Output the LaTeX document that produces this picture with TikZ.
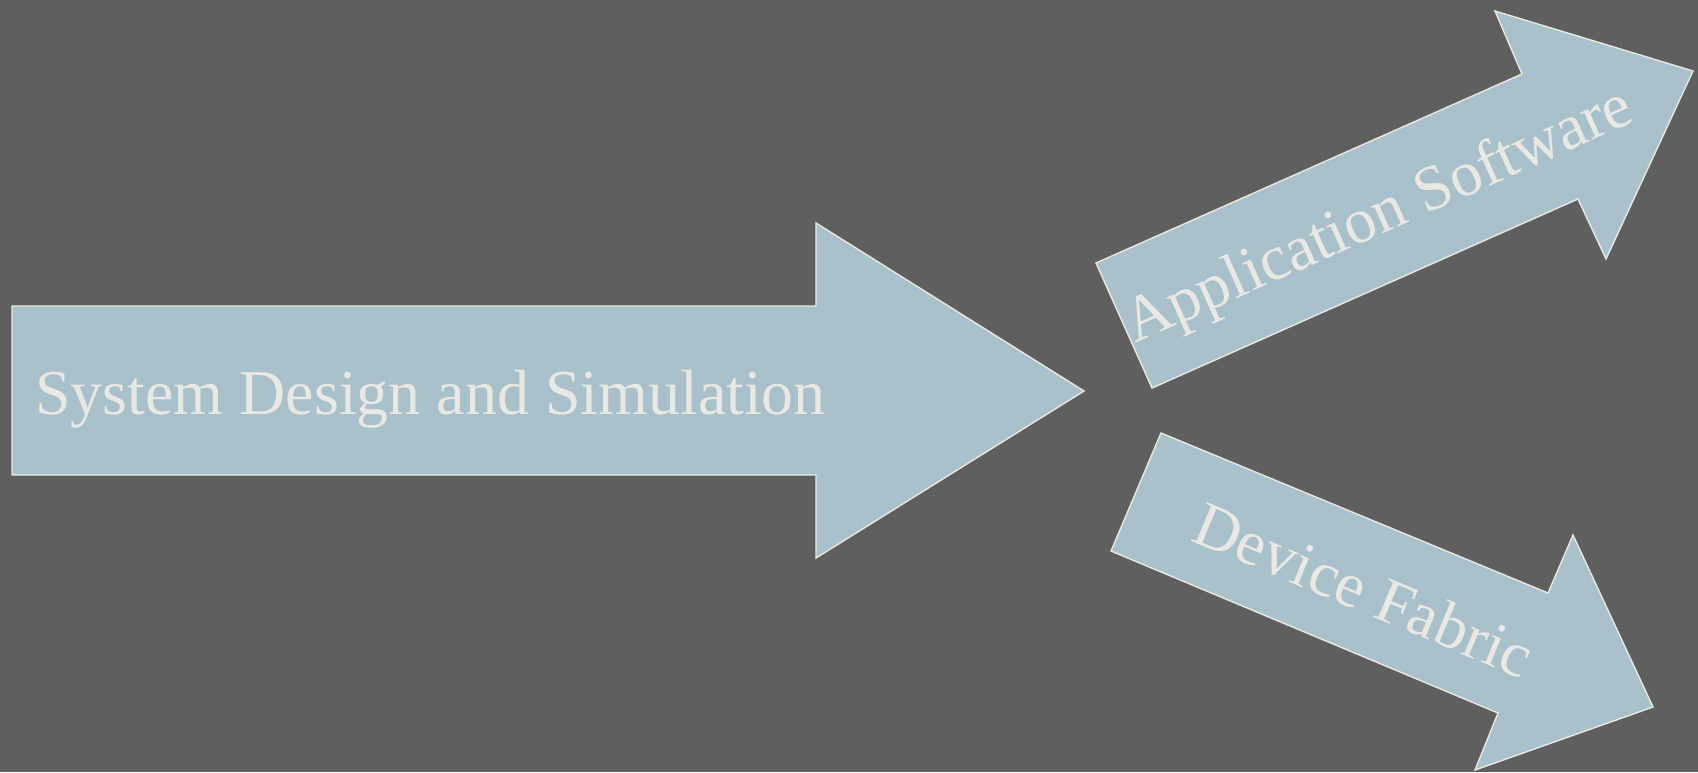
\documentclass[tikz,border=0pt]{standalone}
\usepackage{fontspec}
\setmainfont{Liberation Serif}
\definecolor{slategrey}{HTML}{5F5F5F}
\definecolor{arrowblue}{HTML}{A8C1CA}
\definecolor{chalk}{HTML}{EAE8E3}
\begin{document}
\begin{tikzpicture}[x=0.02cm, y=-0.02cm,
  blockarrow/.style={fill=arrowblue, draw=chalk, line width=0.8pt, line join=miter},
  arrowtext/.style={text=chalk, inner sep=0pt, anchor=base west, font=\fontsize{36.4}{40}\selectfont}]
\fill[slategrey] (0,0) rectangle (1698,772);
\useasboundingbox (0,0) rectangle (1698,772);

% main arrow
\draw[blockarrow] (12,306) -- (816,306) -- (816,223) -- (1084,391) -- (816,558) -- (816,475) -- (12,475) -- cycle;
\node[arrowtext] (design) at (35,414) {System Design and Simulation};

% upper arrow
\draw[blockarrow] (1096,263) -- (1522,74) -- (1495,11) -- (1693,71) -- (1606,259) -- (1578,199) -- (1152,388) -- cycle;
\node[arrowtext, rotate=24] (software) at (1135,344) {Application Software};

% lower arrow
\draw[blockarrow] (1161,433) -- (1548,593) -- (1573,535) -- (1653,707) -- (1475,770) -- (1498,713) -- (1111,551) -- cycle;
\node[arrowtext, rotate=-22.7] (fabric) at (1189,540) {Device Fabric};
\end{tikzpicture}
\end{document}
